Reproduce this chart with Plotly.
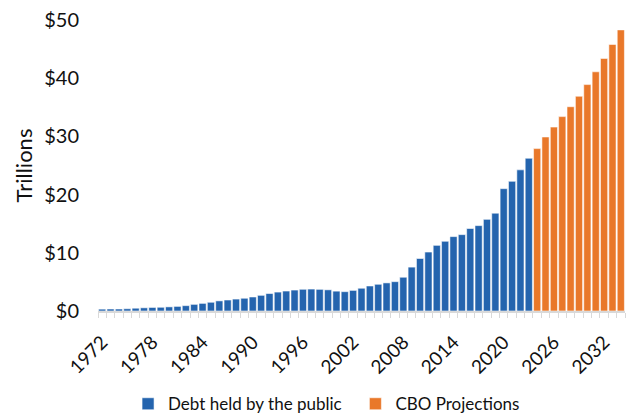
import plotly.graph_objects as go

hist_years = list(range(1972, 2024))
hist_values = [0.32, 0.34, 0.34, 0.39, 0.48, 0.55, 0.61, 0.64, 0.71, 0.79,
               0.92, 1.14, 1.31, 1.50, 1.74, 1.89, 2.05, 2.19, 2.41, 2.69,
               3.00, 3.25, 3.43, 3.60, 3.73, 3.77, 3.72, 3.64, 3.41, 3.32,
               3.54, 3.91, 4.30, 4.59, 4.83, 5.04, 5.80, 7.54, 9.02, 10.13,
               11.28, 11.98, 12.78, 13.12, 14.17, 14.67, 15.75, 16.80, 21.02, 22.28,
               24.25, 26.24]
proj_years = list(range(2024, 2035))
proj_values = [27.9, 29.9, 31.6, 33.4, 35.1, 36.9, 38.9, 41.1, 43.4, 45.8, 48.3]

tick_years = list(range(1972, 2035, 6))
y_ticks = [0, 10, 20, 30, 40, 50]
y_tick_text = ["$0", "$10", "$20", "$30", "$40", "$50"]

FONT = "Lato"
BLUE = "#2464AE"
ORANGE = "#E9782A"

fig = go.Figure()
fig.add_trace(go.Bar(x=hist_years, y=hist_values, name="Debt held by the public\u00a0\u00a0",
                     marker=dict(color=BLUE, line=dict(color="rgba(255,255,255,0.55)", width=1))))
fig.add_trace(go.Bar(x=proj_years, y=proj_values, name="CBO Projections",
                     marker=dict(color=ORANGE, line=dict(color="rgba(255,255,255,0.55)", width=1))))

fig.update_layout(
    width=628, height=415,
    margin=dict(l=98, r=3, t=20, b=104, autoexpand=False),
    paper_bgcolor="white", plot_bgcolor="white",
    bargap=0.14,
    font=dict(family=FONT, color="#111111"),
    showlegend=True,
    legend=dict(orientation="h", x=0.52, xanchor="center", xref="container",
                y=0.026, yanchor="middle", yref="container",
                font=dict(size=17, family=FONT),
                itemwidth=30, traceorder="normal", tracegroupgap=0),
    xaxis=dict(
        type="linear", range=[1971.5, 2034.5],
        tickmode="array", tickvals=tick_years, ticktext=[str(t) for t in tick_years],
        tickangle=-45, tickfont=dict(size=19, family=FONT),
        ticks="", showgrid=False, zeroline=False, ticklabelstandoff=11,
        showline=True, linecolor="#D9D9D9", linewidth=1.5,
        minor=dict(tick0=1971.5, dtick=1, ticks="outside", ticklen=5,
                   tickcolor="#D9D9D9", tickwidth=1, showgrid=False),
    ),
    yaxis=dict(
        range=[0, 50], tickmode="array", tickvals=y_ticks, ticktext=y_tick_text,
        tickfont=dict(size=20, family=FONT), showgrid=False, zeroline=False,
        showline=False, ticks="", ticklabelstandoff=18,
        title=dict(text="Trillions", font=dict(size=22, family=FONT), standoff=5),
    ),
)

fig.write_html("out.html")
